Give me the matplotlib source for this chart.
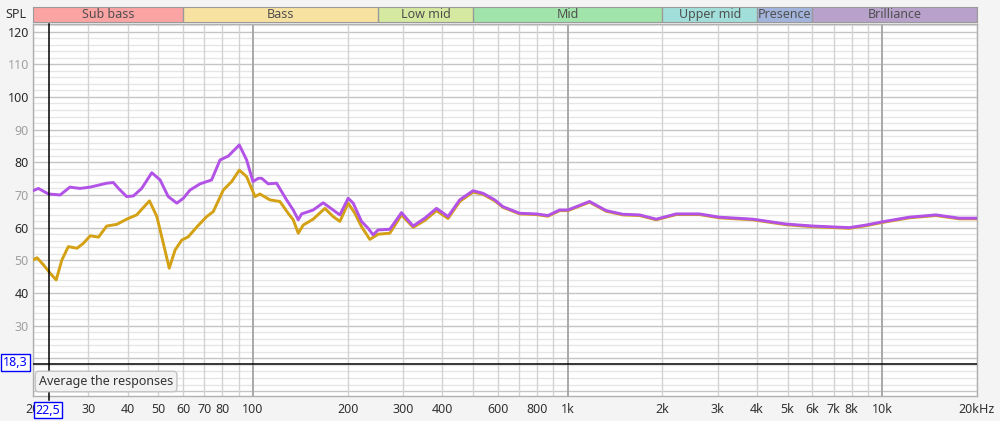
#!/usr/bin/env python3
"""
Frequency response plotter
Recreates a REW-style SPL overlay with the band bar on top
"""

import matplotlib
matplotlib.use('Agg')
import matplotlib.pyplot as plt
import numpy as np

plt.rcParams['font.family'] = ['Noto Sans', 'DejaVu Sans']

# Purple trace (Hz, dB)
purple_freq = [20, 20.8, 22.4, 24.4, 26.2, 28.2, 30.4, 34.3, 36.0, 37.4, 39.7, 41.7,
               44.3, 47.7, 50.7, 53.8, 57.3, 60.1, 63.1, 67.9, 73.9, 78.6, 83.5, 90.5,
               95.5, 100, 104, 106.6, 111.8, 118.9, 127.9, 134.3, 139.3, 142.8, 155.4,
               167.2, 179.8, 188.9, 200.7, 208.2, 221.4, 232.3, 240.9, 249.9, 272.2,
               296.6, 322.9, 351.6, 383.1, 416.9, 454.1, 500.6, 538.5, 586.7, 623.3,
               704, 795, 866, 943, 1002, 1174, 1327, 1498, 1693, 1912, 2214, 2624,
               3038, 3876, 4947, 6007, 7857, 8878, 10023, 12180, 14810, 17550, 20000]
purple_db = [71.3, 72.0, 70.3, 70.0, 72.4, 72.0, 72.4, 73.6, 73.8, 72.0, 69.5, 69.7,
             72.0, 76.8, 74.6, 69.5, 67.5, 69.0, 71.5, 73.4, 74.6, 80.7, 81.9, 85.3,
             80.7, 74.1, 75.1, 75.1, 73.4, 73.6, 68.5, 65.4, 62.4, 64.2, 65.4,
             67.6, 65.4, 63.9, 69.0, 67.5, 61.9, 59.8, 57.8, 59.3, 59.5,
             64.6, 60.5, 62.9, 65.9, 63.4, 68.5, 71.3, 70.5, 68.5, 66.4,
             64.4, 64.2, 63.7, 65.4, 65.4, 68.0, 65.2, 64.1, 63.9, 62.6, 64.2, 64.2,
             63.2, 62.6, 61.1, 60.5, 60.0, 60.8, 61.8, 63.2, 63.9, 62.9, 62.9]

# Gold trace (Hz, dB)
gold_freq = [20, 20.6, 21.6, 22.7, 23.7, 24.7, 25.9, 27.6, 28.9, 30.4, 32.3, 34.3,
             36.9, 39.7, 42.7, 46.9, 49.5, 51.9, 54.2, 56.6, 59.4, 62.3, 66.3, 71.3,
             74.8, 80.5, 85.6, 90.5, 95.5, 101.5, 105.2, 113.2, 121.8, 129.4, 134.3,
             139.3, 144.5, 155.4, 169.3, 179.8, 188.9, 200.7, 210.8, 221.4, 235.2,
             249.9, 272.2, 296.6, 322.9, 351.6, 383.1, 416.9, 454.1, 500.6, 538.5,
             586.7, 623.3, 704, 795, 866, 943, 1002, 1174, 1327, 1498, 1693, 1912,
             2214, 2624, 3038, 3876, 4947, 6007, 7857, 8878, 10023, 12180, 14810,
             17550, 20000]
gold_db = [50.1, 50.8, 48.6, 46.0, 44.0, 50.1, 54.2, 53.7, 55.2, 57.5, 57.1, 60.5,
           61.0, 62.6, 63.9, 68.2, 63.4, 55.2, 47.6, 53.2, 56.2, 57.2, 60.2, 63.4,
           64.9, 71.5, 74.1, 77.6, 75.6, 69.5, 70.3, 68.5, 68.0, 64.4, 62.4,
           58.3, 60.8, 62.6, 65.9, 63.4, 61.9, 67.5, 64.4, 60.3, 56.4,
           58.0, 58.3, 63.9, 60.1, 62.2, 65.2, 62.8, 68.0, 70.9, 70.2,
           68.2, 66.2, 64.2, 64.0, 63.5, 65.2, 65.2, 67.8, 65.0, 63.9, 63.7, 62.4,
           64.0, 64.0, 63.0, 62.4, 60.9, 60.3, 59.8, 60.6, 61.6, 63.0, 63.7,
           62.7, 62.7]

# Frequency bands for the bar on top
band_names = ['Sub bass', 'Bass', 'Low mid', 'Mid', 'Upper mid', 'Presence', 'Brilliance']
band_edges = [20, 60, 250, 500, 2000, 4000, 6000, 20000]
band_colors = ['#fca3a3', '#f8e2a2', '#d5e9a0', '#a1e4aa', '#a2dfda', '#a3b4dc', '#b8a2cc']

# Axis ticks
x_tick_vals = [20, 30, 40, 50, 60, 70, 80, 100, 200, 300, 400, 600, 800, 1000,
               2000, 3000, 4000, 5000, 6000, 7000, 8000, 10000, 20000]
x_tick_text = ['20', '30', '40', '50', '60', '70', '80', '100', '200', '300', '400',
               '600', '800', '1k', '2k', '3k', '4k', '5k', '6k', '7k', '8k', '10k', '20kHz']
y_tick_vals = [20, 30, 40, 50, 60, 70, 80, 90, 100, 110, 120]

cursor_freq = 22.5
cursor_db = 18.3

W, H = 1000, 421
FS = 9


def draw_grid(ax):
    """Draw the log-frequency and SPL grid lines"""
    for dec in [10, 100, 1000, 10000]:
        for m in range(1, 10):
            f = dec * m
            if f < 20 or f > 20000:
                continue
            major = m == 1
            ax.axvline(f, color='#a8a8a8' if major else '#d2d2d2',
                       lw=1.4 if major else 1.0, zorder=1)
    for v in range(8, 124, 2):
        major = v % 10 == 0
        ax.axhline(v, color='#c4c4c4' if major else '#e6e6e6', lw=1.0, zorder=0.5)


fig = plt.figure(figsize=(W / 100, H / 100), dpi=100, facecolor='#f4f4f4')

left, right = 33 / W, 977 / W
ax = fig.add_axes([left, 1 - 396 / H, right - left, (396 - 24) / H])
ax.set_facecolor('white')
ax.set_xscale('log')
ax.set_xlim(20, 20000)
ax.set_ylim(8.5, 122.3)
draw_grid(ax)

# Traces
ax.plot(gold_freq, gold_db, color='#d4a114', lw=2.1, zorder=3,
        solid_joinstyle='round', solid_capstyle='round')
ax.plot(purple_freq, purple_db, color='#b252e6', lw=2.1, zorder=4,
        solid_joinstyle='round', solid_capstyle='round')

# Cursor lines
ax.axvline(cursor_freq, ymin=-0.012, ymax=1, color='black', lw=1.1, zorder=5, clip_on=False)
ax.axhline(cursor_db, color='black', lw=1.1, zorder=5)

# Ticks
ax.minorticks_off()
ax.set_xticks(x_tick_vals)
ax.set_xticklabels(x_tick_text, fontsize=FS, color='#333333')
ax.set_yticks(y_tick_vals)
ylabels = ax.set_yticklabels([str(v) for v in y_tick_vals], fontsize=FS)
for v, lab in zip(y_tick_vals, ylabels):
    lab.set_color('#2a2a2a' if v % 20 == 0 else '#a0a0a0')
ax.tick_params(axis='both', length=0)
ax.tick_params(axis='x', pad=5)
ax.tick_params(axis='y', pad=3)
for s in ax.spines.values():
    s.set_color('#b0b0b0')
    s.set_linewidth(1.0)

# Band bar on top
bax = fig.add_axes([left, 1 - 21.7 / H, right - left, 15 / H])
bax.set_xscale('log')
bax.set_xlim(20, 20000)
bax.set_ylim(0, 1)
for name, lo, hi, c in zip(band_names, band_edges[:-1], band_edges[1:], band_colors):
    bax.axvspan(lo, hi, color=c, lw=0)
    bax.axvline(hi, color='#9a9a9a', lw=1.0)
    bax.text(np.sqrt(lo * hi), 0.45, name, ha='center', va='center',
             fontsize=FS, color='#505050')
bax.set_xticks([])
bax.set_yticks([])
bax.minorticks_off()
for s in bax.spines.values():
    s.set_color('#9a9a9a')

fig.text(16 / W, 1 - 15 / H, 'SPL', ha='center', va='center', fontsize=FS, color='#333333')

# Cursor readouts
fig.text(15.5 / W, 1 - 362.5 / H, '18,3', ha='center', va='center', fontsize=FS,
         color='#0000ff', zorder=10,
         bbox=dict(boxstyle='square,pad=0.15', fc='white', ec='#0000ff', lw=1.0))
fig.text(48 / W, 1 - 410 / H, '22,5', ha='center', va='center', fontsize=FS,
         color='#0000ff', zorder=10,
         bbox=dict(boxstyle='square,pad=0.15', fc='white', ec='#0000ff', lw=1.0))

# Tooltip
fig.text(39 / W, 1 - 381.5 / H, 'Average the responses', ha='left', va='center',
         fontsize=FS, color='#333333', zorder=10,
         bbox=dict(boxstyle='round,pad=0.3,rounding_size=0.3', fc='#f2f2f2',
                   ec='#c4c4c4', lw=1.0))

fig.savefig('out.png', dpi=100, facecolor=fig.get_facecolor())
